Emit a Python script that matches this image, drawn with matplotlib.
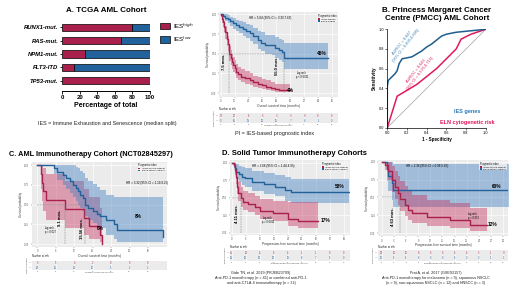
import matplotlib
matplotlib.use('Agg')
import matplotlib.pyplot as plt
from matplotlib.patches import Patch, Rectangle

plt.rcParams['font.family'] = ['Liberation Sans', 'DejaVu Sans']

W, H = 520, 293
fig = plt.figure(figsize=(5.2, 2.93), dpi=100)

RED = '#A9204C'
BLUE = '#22629C'
RED_F = '#C8305E'
BLUE_F = '#3A7DC0'
ROC_RED = '#E0195C'
ROC_BLUE = '#1E5E8E'

# ---------------- data ----------------
# Panel A bar chart
mut_labels = ['RUNX1-mut.', 'RAS-mut.', 'NPM1-mut.', 'FLT3-ITD', 'TP53-mut.']
ies_high_pct = [80, 67, 26, 13, 100]
ies_low_pct = [20, 33, 74, 87, 0]
bar_ticks = [0, 20, 40, 60, 80, 100]

# Panel A KM (TCGA)
a_red_t = [0, 0.5, 1, 1.5, 2, 3, 4, 5, 6, 7, 7.5, 8.5, 9.5, 10.7, 12, 13.6, 15, 17.9, 21, 25, 28, 32, 36, 39.4, 43, 47, 50, 54, 60]
a_red_s = [1, .99, .97, .94, .9, .84, .77, .69, .62, .55, .5, .45, .4, .36, .32, .27, .24, .21, .19, .165, .14, .12, .1, .08, .065, .05, .045, .04, .04]
a_red_lo = [1, .97, .93, .89, .84, .77, .69, .6, .53, .46, .41, .36, .31, .27, .24, .19, .17, .14, .12, .1, .08, .065, .05, .035, .025, .015, .012, .01, .01]
a_red_hi = [1, 1, 1, .99, .96, .91, .85, .78, .72, .65, .6, .55, .5, .46, .42, .37, .33, .3, .28, .25, .22, .2, .18, .16, .14, .12, .11, .11, .11]
a_blue_t = [0, 2, 4, 6, 8, 10.7, 13, 16, 19, 22, 25, 28, 32, 35, 38, 44, 47, 50, 52.6, 55, 93]
a_blue_s = [1, .98, .96, .94, .91, .886, .86, .84, .82, .79, .76, .72, .67, .64, .61, .61, .57, .55, .52, .45, .45]
a_blue_lo = [1, .95, .92, .89, .85, .82, .79, .76, .73, .7, .66, .62, .56, .53, .5, .49, .45, .42, .39, .31, .31]
a_blue_hi = [1, 1, 1, .99, .97, .95, .93, .92, .9, .88, .86, .83, .79, .77, .74, .74, .71, .69, .67, .63, .63]
a_risk_t = [0, 12, 24, 36, 48, 60, 72, 84, 96]
a_risk_red = [74, 27, 8, 5, 3, 3, 0, 0, 0]
a_risk_blue = [75, 55, 39, 30, 18, 7, 6, 1, 0]

# Panel B ROC
roc_ies_fpr = [0, 0, 0.01, 0.03, 0.05, 0.08, 0.1, 0.12, 0.15, 0.2, 0.25, 0.3, 0.35, 0.4, 0.45, 0.5, 0.55, 0.6, 0.7, 0.8, 0.9, 1.0]
roc_ies_tpr = [0, 0.42, 0.48, 0.5, 0.52, 0.55, 0.58, 0.65, 0.7, 0.71, 0.72, 0.75, 0.78, 0.82, 0.85, 0.89, 0.93, 0.95, 0.97, 0.98, 0.99, 1.0]
roc_eln_fpr = [0, 0.1, 0.2, 0.3, 0.4, 0.5, 0.6, 0.7, 0.75, 0.85, 1.0]
roc_eln_tpr = [0, 0.32, 0.38, 0.44, 0.52, 0.6, 0.7, 0.8, 0.9, 0.95, 1.0]
roc_ticks = [0.0, 0.2, 0.4, 0.6, 0.8, 1.0]

# Panel C KM (AML immunotherapy)
c_red_t = [0, 1.2, 1.5, 2.0, 2.8, 9.1, 15.2, 16.8, 20.5, 21.2]
c_red_s = [1, .889, .778, .667, .556, .444, .333, .222, .111, 0]
c_red_lo = [1, .7, .55, .42, .3, .2, .12, .06, .02, 0]
c_red_hi = [1, 1, 1, .96, .89, .8, .7, .6, .45, 0]
c_blue_t = [0, 5.5, 6.5, 8.5, 9.5, 10.5, 11.5, 12.5, 13.2, 14, 15, 15.56, 16.5, 18, 19.5, 20.5, 22.3, 25, 26, 40.8]
c_blue_s = [1, .958, .917, .875, .833, .792, .75, .708, .667, .625, .583, .5, .46, .42, .38, .35, .3, .25, .18, .09]
c_blue_lo = [1, .88, .81, .75, .7, .64, .59, .54, .5, .46, .42, .35, .31, .27, .23, .2, .12, .06, .03, .03]
c_blue_hi = [1, 1, 1, 1, 1, 1, 1, .98, .96, .93, .9, .84, .8, .76, .72, .68, .62, .6, .6, .6]
c_risk_t = [0, 6, 12, 18, 24, 30, 36]
c_risk_red = [9, 5, 4, 2, 0, 0, 0]
c_risk_blue = [24, 21, 14, 10, 5, 2, 2]

# Panel D left KM (Gide)
d1_red_t = [0, .8, 1.4, 1.8, 2.2, 2.9, 4.11, 4.9, 7.1, 9.9, 12, 17.7, 24, 28.3, 36.9]
d1_red_s = [1, .97, .9, .8, .66, .57, .49, .44, .41, .37, .31, .28, .2, .17, .17]
d1_red_lo = [1, .92, .82, .7, .55, .45, .37, .32, .29, .25, .19, .16, .1, .07, .07]
d1_red_hi = [1, 1, .99, .92, .8, .72, .65, .6, .57, .53, .48, .46, .44, .44, .44]
d1_blue_t = [0, 0.8, 1.3, 1.8, 3, 4.5, 5.7, 8.5, 14, 18.4, 22.7, 25.5, 50]
d1_blue_s = [1, .97, .92, .87, .84, .8, .78, .73, .7, .66, .61, .58, .58]
d1_blue_lo = [1, .92, .84, .77, .73, .68, .65, .6, .56, .52, .46, .43, .43]
d1_blue_hi = [1, 1, 1, .98, .96, .94, .92, .88, .86, .83, .79, .77, .77]
d1_risk_t = [0, 6, 12, 18, 24, 30, 36, 42, 48]
d1_risk_red = [35, 14, 11, 8, 4, 1, 1, 0, 0]
d1_risk_blue = [38, 28, 20, 20, 13, 8, 7, 5, 0]

# Panel D right KM (Prat)
d2_red_t = [0, 0.8, 1.5, 2.5, 3.2, 4.1, 4.63, 5.8, 6.6, 7.4, 11.1, 16.9, 21.8, 25.9]
d2_red_s = [1, .96, .87, .74, .65, .56, .48, .4, .33, .28, .23, .19, .12, .12]
d2_red_lo = [1, .88, .74, .58, .48, .39, .31, .24, .18, .14, .1, .07, .03, .03]
d2_red_hi = [1, 1, 1, .94, .87, .8, .73, .66, .59, .53, .47, .42, .36, .36]
d2_blue_t = [0, 1.2, 1.6, 2.5, 2.9, 31.5]
d2_blue_s = [1, .9, .8, .7, .6, .6]
d2_blue_lo = [1, .73, .59, .47, .37, .37]
d2_blue_hi = [1, 1, 1, 1, .97, .97]
d2_risk_t = [0, 3, 6, 9, 12, 15, 18, 21, 24, 27, 30]
d2_risk_red = [23, 14, 10, 8, 6, 6, 4, 4, 3, 1, 0]
d2_risk_blue = [10, 6, 6, 6, 6, 6, 6, 3, 3, 1, 1]


# ---------------- helpers ----------------
def ax_px(x0, y0, x1, y1):
    return fig.add_axes([x0 / W, 1 - y1 / H, (x1 - x0) / W, (y1 - y0) / H])


def txt(x, y, s, **kw):
    kw.setdefault('ha', 'center')
    kw.setdefault('va', 'center')
    fig.text(x / W, 1 - y / H, s, **kw)


def draw_km(ax, curves, xlim, ylim, xticks, xlabel, medians, hline_end,
            legend_labels):
    ax.set_facecolor('#EBEBEB')
    for t, s, lo, hi, col, fcol in curves:
        ax.fill_between(t, lo, hi, step='post', color=fcol, alpha=0.42, lw=0)
        ax.step(t, s, where='post', color=col, lw=1.0)
    for m in medians:
        ax.plot([m, m], [0, 0.5], color='#808080', lw=0.35, ls='--')
    ax.plot([0, hline_end], [0.5, 0.5], color='#808080', lw=0.35, ls='--')
    ax.set_xlim(xlim)
    ax.set_ylim(ylim)
    ax.set_xticks(xticks)
    ax.set_yticks([0, .25, .5, .75, 1])
    ax.set_yticklabels(['0.00', '0.25', '0.50', '0.75', '1.00'])
    ax.tick_params(labelsize=1.8, length=1, width=0.3, pad=0.8,
                   colors='#555555')
    ax.grid(color='white', lw=0.45)
    ax.set_axisbelow(True)
    for sp in ax.spines.values():
        sp.set_visible(False)
    ax.set_xlabel(xlabel, fontsize=2.3, labelpad=0.4, color='#333333')
    ax.set_ylabel('Survival probability', fontsize=2.1, labelpad=0.8,
                  color='#333333')
    handles = [Patch(facecolor=RED, label=legend_labels[0]),
               Patch(facecolor=BLUE, label=legend_labels[1])]
    leg = ax.legend(handles=handles, title='Prognostic index', fontsize=1.6,
                    title_fontsize=1.8, loc='upper right', frameon=True,
                    handlelength=0.9, handleheight=0.7, borderpad=0.4,
                    labelspacing=0.15, borderaxespad=0.4, fancybox=False)
    leg.get_frame().set_linewidth(0)
    leg.get_frame().set_facecolor('#F4F4F4')
    leg._legend_box.align = 'left'


def draw_risk(ax, times, red, blue, xlim, xlabel, label_xy):
    ax.set_facecolor('#EBEBEB')
    ax.set_xlim(xlim)
    ax.set_ylim(1.5, -0.5)
    for t, c in zip(times, red):
        ax.text(t, 0, str(c), color=RED, fontsize=1.8, ha='center',
                va='center')
    for t, c in zip(times, blue):
        ax.text(t, 1, str(c), color=BLUE, fontsize=1.8, ha='center',
                va='center')
    ax.set_yticks([0, 1])
    ax.set_yticklabels(['\u2014', '\u2014'], fontsize=2.2, fontweight='bold')
    for tl, c in zip(ax.get_yticklabels(), [RED, BLUE]):
        tl.set_color(c)
    ax.set_xticks(times)
    ax.tick_params(labelsize=1.5, length=0, pad=0.6, colors='#555555')
    ax.grid(axis='x', color='white', lw=0.4)
    ax.set_axisbelow(True)
    for sp in ax.spines.values():
        sp.set_visible(False)
    ax.set_xlabel(xlabel, fontsize=1.5, labelpad=0.3, color='#333333')
    ax.set_ylabel('Prognostic index', fontsize=1.5, labelpad=0.5,
                  color='#333333')
    txt(label_xy[0], label_xy[1], 'Number at risk', fontsize=1.9,
        ha='left', color='#222222')


# ---------------- Panel A: bars ----------------
axb = ax_px(62.3, 19.3, 150, 90.7)
ypos = list(range(len(mut_labels)))
axb.barh(ypos, ies_high_pct, height=0.55, color=RED, edgecolor='black',
         lw=0.5)
axb.barh(ypos, ies_low_pct, left=ies_high_pct, height=0.55, color=BLUE,
         edgecolor='black', lw=0.5)
axb.set_ylim(4.75, -0.6)
axb.set_xlim(0, 100)
axb.set_yticks(ypos)
axb.set_yticklabels(mut_labels, fontsize=4.2, fontweight='bold',
                    fontstyle='italic')
axb.set_xticks(bar_ticks)
axb.set_xticklabels([str(v) for v in bar_ticks], fontsize=4.4,
                    fontweight='bold')
axb.tick_params(length=1.8, width=0.6, pad=1)
for sp in ['top', 'right', 'left']:
    axb.spines[sp].set_visible(False)
axb.spines['bottom'].set_linewidth(0.7)
axb.spines['bottom'].set_bounds(0, 100)
axb.set_xlabel('Percentage of total', fontsize=5, fontweight='bold',
               labelpad=2)
txt(106, 11, 'A. TCGA AML Cohort', fontsize=5.8, fontweight='bold')

fig.patches.append(Rectangle((159.5 / W, 1 - 29.3 / H), 10.5 / W, 6.6 / H,
                             transform=fig.transFigure, facecolor=RED,
                             edgecolor='black', lw=0.5))
fig.patches.append(Rectangle((159.5 / W, 1 - 43 / H), 10.5 / W, 6.6 / H,
                             transform=fig.transFigure, facecolor=BLUE,
                             edgecolor='black', lw=0.5))
txt(173, 26, 'IES$^{high}$', fontsize=4.4, ha='left')
txt(173, 39.8, 'IES$^{low}$', fontsize=4.4, ha='left')
txt(107, 123, 'IES = Immune Exhaustion and Senescence (median split)',
    fontsize=3.9, color='#222222')

# ---------------- Panel A: KM ----------------
axa = ax_px(219, 12, 338, 97)
draw_km(axa,
        [(a_blue_t, a_blue_s, a_blue_lo, a_blue_hi, BLUE, BLUE_F),
         (a_red_t, a_red_s, a_red_lo, a_red_hi, RED, RED_F)],
        (-1.5, 101.2), (-0.05, 1.03), a_risk_t,
        'Overall survival time (months)', [7.5, 55.0], 55.0,
        ['Above median', 'Below median'])
txt(270, 18.5, 'HR = 5.04 (95% CI = 3.33-7.63)', fontsize=2.2)
txt(322, 53.3, '45%', fontsize=3.4, fontweight='bold')
txt(290, 90, '4%', fontsize=3.4, fontweight='bold')
txt(302, 75, 'Log-rank\np < 0.0001', fontsize=1.8, linespacing=1.1)
txt(223.8, 62, '7.5 mos.', fontsize=3.0, fontweight='bold', rotation=90)
txt(277.2, 66, '55.0 mos.', fontsize=3.0, fontweight='bold', rotation=90)

axar = ax_px(219, 113, 338, 123)
draw_risk(axar, a_risk_t, a_risk_red, a_risk_blue, (-1.5, 101.2),
          'Overall survival time (months)', (219, 108.5))
txt(275, 134, 'PI = IES-based prognostic index', fontsize=4.0,
    color='#222222')

# ---------------- Panel B: ROC ----------------
axr = ax_px(387.3, 29.3, 485.7, 127.7)
axr.plot([0, 1], [0, 1], color='#A0A0A0', lw=0.5)
axr.plot(roc_eln_fpr, roc_eln_tpr, color=ROC_RED, lw=1.1)
axr.plot(roc_ies_fpr, roc_ies_tpr, color=ROC_BLUE, lw=1.1)
axr.set_xlim(0, 1)
axr.set_ylim(0, 1)
axr.set_xticks(roc_ticks)
axr.set_yticks(roc_ticks)
axr.set_xticklabels(['%.1f' % v for v in roc_ticks])
axr.set_yticklabels(['%.1f' % v for v in roc_ticks])
axr.tick_params(labelsize=2.8, length=1.2, width=0.4, pad=1)
for sp in ['top', 'right']:
    axr.spines[sp].set_visible(False)
for sp in ['left', 'bottom']:
    axr.spines[sp].set_linewidth(0.5)
axr.set_xlabel('1 - Specificity', fontsize=3.3, fontweight='bold',
               labelpad=1.5)
axr.set_ylabel('Sensitivity', fontsize=3.3, fontweight='bold', labelpad=1.5)
txt(437, 10, 'B. Princess Margaret Cancer', fontsize=5.8, fontweight='bold')
txt(437, 19, 'Centre (PMCC) AML Cohort', fontsize=5.8, fontweight='bold')
txt(404, 44, 'AUROC = 0.847\n(95% CI = 0.800-0.895)', fontsize=2.9,
    color='#3A80B5', rotation=52, linespacing=1.2)
txt(418, 72, 'AUROC = 0.643\n(95% CI = 0.570-0.715)', fontsize=2.9,
    color=ROC_RED, rotation=52, linespacing=1.2)
txt(467, 111.5, 'IES genes', fontsize=4.0, fontweight='bold',
    color='#2A78B8')
txt(467, 122.5, 'ELN cytogenetic risk', fontsize=4.0, fontweight='bold',
    color=ROC_RED)

# ---------------- Panel C ----------------
txt(91, 154, 'C. AML Immunotherapy Cohort (NCT02845297)', fontsize=5.3,
    fontweight='bold')
axc = ax_px(31.7, 161.7, 166.7, 246.7)
draw_km(axc,
        [(c_red_t, c_red_s, c_red_lo, c_red_hi, RED, RED_F),
         (c_blue_t, c_blue_s, c_blue_lo, c_blue_hi, BLUE, BLUE_F)],
        (-1.82, 42.1), (-0.034, 1.042), c_risk_t,
        'Overall survival time (months)', [9.1, 15.56], 15.56,
        ['Above optimal cutpoint', 'Below optimal cutpoint'])
txt(146.7, 183.3, 'HR = 3.32 (95% CI = 1.19-9.25)', fontsize=2.2)
txt(138, 216.7, '8%', fontsize=3.4, fontweight='bold')
txt(100, 228, '0%', fontsize=3.4, fontweight='bold')
txt(50, 230, 'Log-rank\np = 0.027', fontsize=1.8, linespacing=1.1)
txt(60, 218, '9.1 mos.', fontsize=3.0, fontweight='bold', rotation=90)
txt(82, 229, '15.56 mos.', fontsize=3.0, fontweight='bold', rotation=90)
axcr = ax_px(31.7, 261, 166.7, 270)
draw_risk(axcr, c_risk_t, c_risk_red, c_risk_blue, (-1.82, 42.1),
          'Overall survival time (months)', (31.7, 256))

# ---------------- Panel D ----------------
txt(295, 153.5, 'D. Solid Tumor Immunotherapy Cohorts', fontsize=5.5,
    fontweight='bold')
axd1 = ax_px(230, 160, 350, 235)
draw_km(axd1,
        [(d1_blue_t, d1_blue_s, d1_blue_lo, d1_blue_hi, BLUE, BLUE_F),
         (d1_red_t, d1_red_s, d1_red_lo, d1_red_hi, RED, RED_F)],
        (-0.73, 50.6), (-0.033, 1.039), d1_risk_t,
        'Progression-free survival time (months)', [4.11], 4.11,
        ['Above optimal cutpoint', 'Below optimal cutpoint'])
txt(273, 165.5, 'HR = 2.66 (95% CI = 1.44-4.93)', fontsize=2.2)
txt(340, 187, '58%', fontsize=3.4, fontweight='bold')
txt(325.5, 221, '17%', fontsize=3.4, fontweight='bold')
txt(268, 220, 'Log-rank\np = 0.0011', fontsize=1.8, linespacing=1.1)
txt(236.5, 214, '4.11 mos.', fontsize=3.0, fontweight='bold', rotation=90)
axd1r = ax_px(230, 250.3, 350, 261)
draw_risk(axd1r, d1_risk_t, d1_risk_red, d1_risk_blue, (-0.73, 50.6),
          'Progression-free survival time (months)', (230, 247.5))
txt(261, 278, 'Gide TN, et al. 2019 (PRJEB23709)\n'
    'Anti-PD-1 monotherapy (n = 41) or combined anti-PD-1\n'
    'and anti-CTLA-4 immunotherapy (n = 32)', fontsize=2.7,
    linespacing=1.25, color='#222222')

axd2 = ax_px(378, 160, 508, 236)
draw_km(axd2,
        [(d2_blue_t, d2_blue_s, d2_blue_lo, d2_blue_hi, BLUE, BLUE_F),
         (d2_red_t, d2_red_s, d2_red_lo, d2_red_hi, RED, RED_F)],
        (-0.91, 31.2), (-0.038, 1.024), d2_risk_t,
        'Progression-free survival time (months)', [4.63], 4.63,
        ['Above optimal cutpoint', 'Below optimal cutpoint'])
txt(427, 165.5, 'HR = 2.36 (95% CI = 0.98-5.65)', fontsize=2.2)
txt(497, 187, '60%', fontsize=3.4, fontweight='bold')
txt(493, 225, '12%', fontsize=3.4, fontweight='bold')
txt(473, 216, 'Log-rank\np = 0.051', fontsize=1.8, linespacing=1.1)
txt(393, 217, '4.63 mos.', fontsize=3.0, fontweight='bold', rotation=90)
axd2r = ax_px(378, 250.3, 508, 261)
draw_risk(axd2r, d2_risk_t, d2_risk_red, d2_risk_blue, (-0.91, 31.2),
          'Progression-free survival time (months)', (378, 247.5))
txt(436, 278, 'Prat A, et al. 2017 (GSE93157)\n'
    'Anti-PD-1 monotherapy for melanoma (n = 9), squamous NSCLC\n'
    '(n = 9), non-squamous NSCLC (n = 12) and HNSCC (n = 3)', fontsize=2.7,
    linespacing=1.25, color='#222222')

fig.savefig('out.png', dpi=100)
